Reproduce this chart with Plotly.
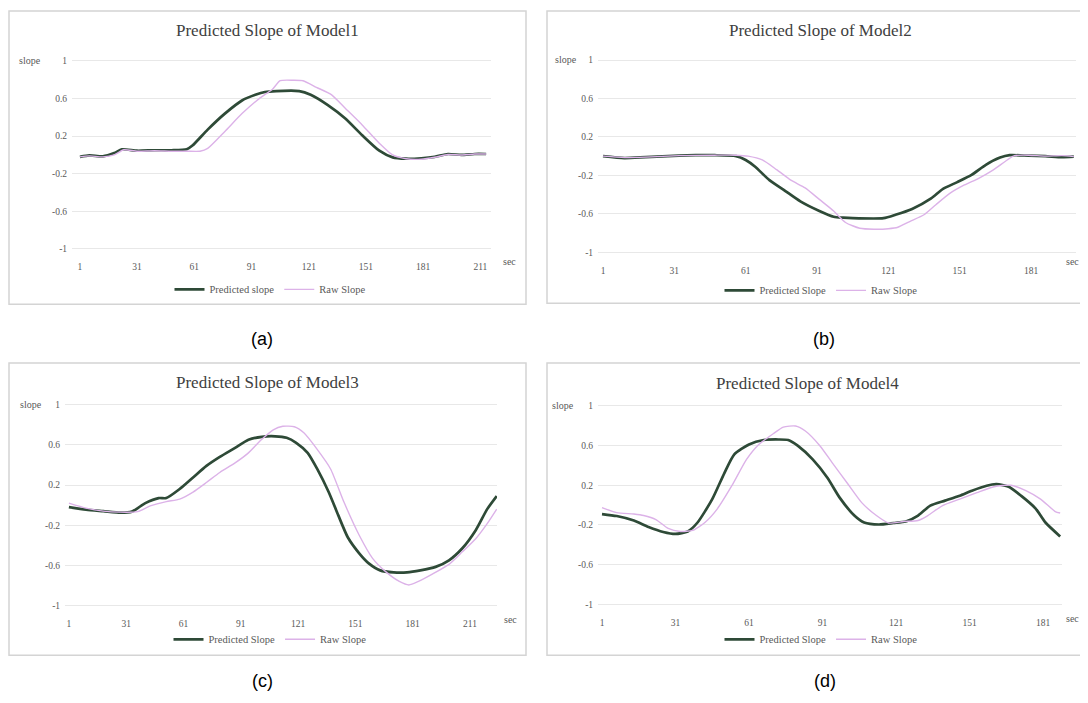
import plotly.graph_objects as go

# page body has an 8px margin: the figure is drawn 8px right/down of the window corner
OFF = 8
W, H = 1080, 687

# ---------------- data ----------------
x_tick_vals = [1, 31, 61, 91, 121, 151, 181, 211]
y_tick_vals = [-1, -0.6, -0.2, 0.2, 0.6, 1]
y_tick_text = ["-1", "-0.6", "-0.2", "0.2", "0.6", "1"]

titles = ["Predicted Slope of Model1", "Predicted Slope of Model2",
          "Predicted Slope of Model3", "Predicted Slope of Model4"]
pred_names = ["Predicted slope", "Predicted Slope", "Predicted Slope", "Predicted Slope"]
raw_names = ["Raw Slope", "Raw Slope", "Raw Slope", "Raw Slope"]
panel_labels = ["(a)", "(b)", "(c)", "(d)"]
y_label = "slope"
x_label = "sec"

# Model 1
a_pred_x = [1, 6, 13, 19, 23, 31, 40, 49, 57, 60, 68, 77, 86, 93, 98, 104, 116, 122, 131,
            140, 149, 158, 165, 172, 180, 187, 194, 201, 208, 214]
a_pred_y = [-0.02, -0.005, -0.015, 0.02, 0.06, 0.045, 0.05, 0.05, 0.06, 0.10, 0.27, 0.44,
            0.58, 0.64, 0.67, 0.68, 0.68, 0.64, 0.53, 0.39, 0.21, 0.045, -0.026, -0.04,
            -0.035, -0.02, 0.01, 0.0, 0.01, 0.01]
a_raw_x = [1, 6, 13, 19, 24, 31, 40, 49, 57, 64, 68, 77, 86, 95, 102, 106, 113, 118, 125,
           133, 140, 149, 158, 165, 172, 180, 187, 194, 201, 208, 214]
a_raw_y = [-0.02, -0.01, -0.02, 0.0, 0.055, 0.04, 0.045, 0.04, 0.04, 0.04, 0.07, 0.25, 0.44,
           0.60, 0.70, 0.79, 0.795, 0.79, 0.72, 0.64, 0.50, 0.32, 0.125, 0.0, -0.04, -0.045,
           -0.025, 0.005, 0.0, 0.01, 0.01]

# Model 2
b_pred_x = [1, 10, 19, 33, 40, 48, 57, 61, 65, 71, 77, 84, 92, 98, 102, 106, 119, 124, 131,
            139, 144, 150, 156, 162, 168, 172, 180, 187, 194, 199]
b_pred_y = [0.0, -0.02, -0.01, 0.005, 0.01, 0.01, 0.0, -0.04, -0.11, -0.25, -0.35, -0.47,
            -0.57, -0.63, -0.64, -0.645, -0.645, -0.61, -0.55, -0.44, -0.34, -0.27, -0.195,
            -0.09, -0.015, 0.01, 0.005, 0.0, -0.01, -0.005]
b_raw_x = [1, 10, 19, 33, 48, 57, 62, 68, 74, 80, 86, 92, 98, 103, 109, 115, 121, 125, 130,
           136, 141, 147, 153, 159, 165, 171, 174, 180, 187, 194, 199]
b_raw_y = [0.0, -0.015, -0.01, 0.005, 0.01, 0.01, 0.0, -0.04, -0.14, -0.25, -0.33, -0.45,
           -0.57, -0.69, -0.75, -0.76, -0.755, -0.74, -0.68, -0.61, -0.505, -0.385, -0.30,
           -0.23, -0.145, -0.04, 0.005, 0.01, 0.0, 0.005, -0.005]

# Model 3
c_pred_x = [1, 10, 19, 28, 34, 41, 48, 52, 59, 66, 73, 80, 88, 95, 102, 109, 115, 120, 126,
            131, 137, 142, 147, 153, 158, 164, 171, 178, 185, 193, 200, 207, 214, 220, 225]
c_pred_y = [-0.02, -0.045, -0.06, -0.075, -0.065, 0.02, 0.07, 0.07, 0.16, 0.275, 0.39, 0.48,
            0.57, 0.65, 0.68, 0.685, 0.67, 0.62, 0.52, 0.36, 0.13, -0.10, -0.32, -0.48,
            -0.58, -0.65, -0.67, -0.67, -0.65, -0.615, -0.55, -0.43, -0.25, -0.04, 0.09]
c_raw_x = [1, 10, 19, 28, 37, 44, 52, 59, 66, 73, 80, 88, 95, 102, 108, 113, 119, 124, 131,
           138, 145, 153, 160, 167, 174, 179, 184, 191, 200, 207, 214, 220, 225]
c_raw_y = [0.02, -0.03, -0.06, -0.07, -0.065, -0.005, 0.035, 0.06, 0.13, 0.225, 0.325, 0.42,
           0.52, 0.655, 0.75, 0.785, 0.78, 0.72, 0.555, 0.36, 0.03, -0.30, -0.53, -0.665,
           -0.76, -0.795, -0.76, -0.69, -0.59, -0.465, -0.335, -0.185, -0.04]

# Model 4
d_pred_x = [1, 7, 14, 20, 26, 31, 36, 40, 46, 51, 55, 61, 67, 73, 77, 81, 87, 93, 98, 104,
            108, 114, 120, 125, 130, 135, 141, 147, 152, 158, 162, 167, 172, 178, 182, 188]
d_pred_y = [-0.09, -0.11, -0.155, -0.22, -0.27, -0.29, -0.265, -0.175, 0.06, 0.325, 0.51,
            0.61, 0.655, 0.66, 0.655, 0.595, 0.46, 0.275, 0.075, -0.105, -0.175, -0.195,
            -0.18, -0.165, -0.105, -0.005, 0.045, 0.095, 0.145, 0.195, 0.21, 0.185, 0.095,
            -0.035, -0.175, -0.315]
d_raw_x = [1, 7, 14, 18, 23, 28, 33, 38, 43, 48, 54, 60, 65, 71, 75, 80, 84, 90, 95, 101,
           107, 113, 118, 124, 130, 134, 140, 147, 154, 161, 168, 174, 180, 186, 188]
d_raw_y = [-0.025, -0.075, -0.09, -0.105, -0.145, -0.235, -0.265, -0.255, -0.175, -0.04,
           0.195, 0.46, 0.61, 0.72, 0.785, 0.795, 0.745, 0.595, 0.425, 0.225, 0.025, -0.105,
           -0.18, -0.165, -0.155, -0.105, -0.005, 0.06, 0.125, 0.185, 0.20, 0.145, 0.06,
           -0.065, -0.08]

series = [(a_pred_x, a_pred_y, a_raw_x, a_raw_y),
          (b_pred_x, b_pred_y, b_raw_x, b_raw_y),
          (c_pred_x, c_pred_y, c_raw_x, c_raw_y),
          (d_pred_x, d_pred_y, d_raw_x, d_raw_y)]

# ---------------- layout (window pixels) ----------------
# sec: (x, y, anchor)
panels = [
    dict(l=72, r=491, top=59.3, bot=248.3, p1=79.9, p181=423.2,
         box=(9, 9, 526, 304), title=(267, 29), slope=(30, 59), sec=(509, 261, "center"),
         legend=(270, 289), lab=(262, 339)),
    dict(l=598, r=1076, top=58.3, bot=251.7, p1=603, p181=1031,
         box=(547, 9, 1100, 303), title=(820, 29), slope=(566, 58), sec=(1080, 261, "right"),
         legend=(821, 290), lab=(824, 339)),
    dict(l=65, r=497, top=405, bot=607, p1=68.9, p181=412.7,
         box=(9, 363, 526, 657), title=(267, 383), slope=(31, 405), sec=(510, 621, "center"),
         legend=(270, 641), lab=(262, 683)),
    dict(l=598, r=1062, top=406, bot=606, p1=602, p181=1043,
         box=(547, 363, 1100, 657), title=(807, 384), slope=(563, 406), sec=(1080, 620, "right"),
         legend=(821, 641), lab=(825, 683)),
]


def fx(px):
    return (px - OFF) / W


def fy(py):
    return 1 - (py - OFF) / H


PRED_COLOR = "#2e4a37"
RAW_COLOR = "#dcb2e8"
GRID = "#e8e8e8"
TXT = "#595959"
SERIF = "Liberation Serif, Times New Roman, serif"

fig = go.Figure()
shapes, annots = [], []
layout = dict(width=W, height=H, autosize=False, margin=dict(l=0, r=0, t=0, b=0),
              paper_bgcolor="white", plot_bgcolor="white", showlegend=True)

for k, (p, (px_, py_, rx_, ry_)) in enumerate(zip(panels, series)):
    n = "" if k == 0 else str(k + 1)
    lg = "legend" if k == 0 else f"legend{k+1}"
    per = (p["p181"] - p["p1"]) / 180.0
    xr = [1 - (p["p1"] - p["l"]) / per, 1 + (p["r"] - p["p1"]) / per]
    pad = 3
    kpx = (p["bot"] - p["top"]) / 2.0
    yr = [-1 - pad / kpx, 1 + pad / kpx]
    ydom = [fy(p["bot"] + pad), fy(p["top"] - pad)]
    xdom = [fx(p["l"]), fx(p["r"])]

    fig.add_trace(go.Scatter(x=px_, y=py_, mode="lines", name=pred_names[k],
                             line=dict(color=PRED_COLOR, width=2.7, shape="spline", smoothing=0.6),
                             xaxis="x" + n, yaxis="y" + n, legend=lg))
    fig.add_trace(go.Scatter(x=rx_, y=ry_, mode="lines", name=raw_names[k],
                             line=dict(color=RAW_COLOR, width=1.4, shape="spline", smoothing=0.6),
                             xaxis="x" + n, yaxis="y" + n, legend=lg))

    layout["xaxis" + n] = dict(domain=xdom, range=xr, anchor="y" + n,
                               tickvals=x_tick_vals, ticktext=[str(v) for v in x_tick_vals],
                               showgrid=False, zeroline=False, showline=False,
                               ticks="outside", ticklen=6, tickcolor="rgba(0,0,0,0)",
                               tickfont=dict(family=SERIF, size=9.5, color=TXT))
    layout["yaxis" + n] = dict(domain=ydom, range=yr, anchor="x" + n,
                               tickvals=y_tick_vals, ticktext=y_tick_text,
                               showgrid=True, gridcolor=GRID, gridwidth=1,
                               zeroline=False, showline=False,
                               ticks="outside", ticklen=2, tickcolor="rgba(0,0,0,0)",
                               tickfont=dict(family=SERIF, size=9.5, color=TXT))
    layout[lg] = dict(x=fx(p["legend"][0]), y=fy(p["legend"][1]),
                      xanchor="center", yanchor="middle", orientation="h",
                      font=dict(family=SERIF, size=10.5, color=TXT),
                      bgcolor="rgba(0,0,0,0)", itemwidth=30, tracegroupgap=0)

    x0, y0, x1, y1 = p["box"]
    shapes.append(dict(type="rect", xref="paper", yref="paper",
                       x0=fx(x0), x1=fx(x1), y0=fy(y1), y1=fy(y0),
                       line=dict(color="#d4d4d4", width=1.5), fillcolor="rgba(0,0,0,0)",
                       layer="below"))
    annots.append(dict(text=titles[k], x=fx(p["title"][0]), y=fy(p["title"][1]),
                       xref="paper", yref="paper", showarrow=False,
                       xanchor="center", yanchor="middle",
                       font=dict(family=SERIF, size=17, color="#404040")))
    annots.append(dict(text=y_label, x=fx(p["slope"][0]), y=fy(p["slope"][1]),
                       xref="paper", yref="paper", showarrow=False,
                       xanchor="center", yanchor="middle",
                       font=dict(family=SERIF, size=10, color=TXT)))
    sx, sy, sa = p["sec"]
    annots.append(dict(text=x_label, x=fx(sx), y=fy(sy),
                       xref="paper", yref="paper", showarrow=False,
                       xanchor=sa, yanchor="middle", borderpad=0,
                       font=dict(family=SERIF, size=10, color=TXT)))
    annots.append(dict(text=panel_labels[k], x=fx(p["lab"][0]), y=fy(p["lab"][1]),
                       xref="paper", yref="paper", showarrow=False,
                       xanchor="center", yanchor="middle",
                       font=dict(family="Liberation Sans, Arial, sans-serif", size=18,
                                 color="#000000")))

layout["shapes"] = shapes
layout["annotations"] = annots
fig.update_layout(**layout)
fig.write_html("out.html")
